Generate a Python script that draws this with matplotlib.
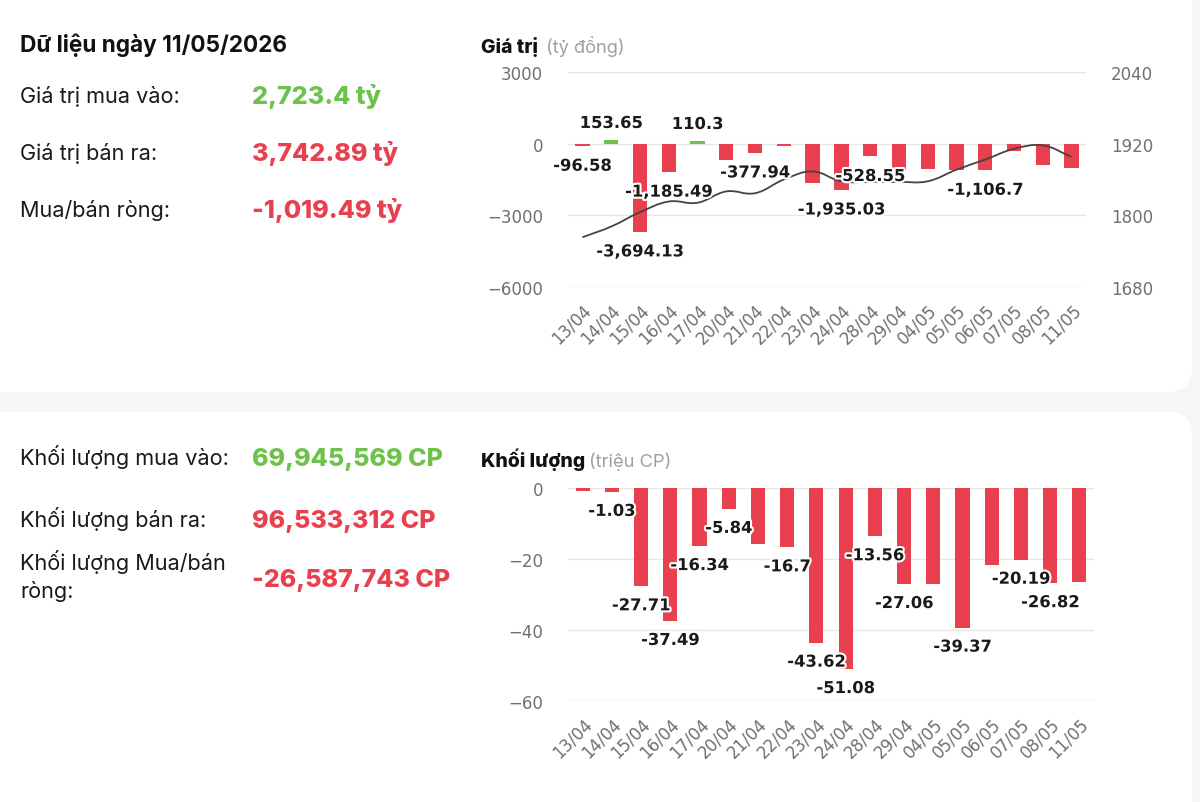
import matplotlib
matplotlib.use("Agg")
import matplotlib.pyplot as plt
import matplotlib.patheffects as pe
from matplotlib.patches import FancyBboxPatch
from matplotlib.path import Path
from matplotlib.patches import PathPatch
import numpy as np

# ---------------- data ----------------
dates = ["13/04", "14/04", "15/04", "16/04", "17/04", "20/04", "21/04", "22/04", "23/04",
         "24/04", "28/04", "29/04", "04/05", "05/05", "06/05", "07/05", "08/05", "11/05"]
net_value = [-96.58, 153.65, -3694.13, -1185.49, 110.3, -663, -377.94, -110, -1650,
             -1935.03, -528.55, -1085, -1040, -1085, -1106.7, -310, -900, -1019.49]
show_value_label = [1, 1, 1, 1, 1, 0, 1, 0, 0, 1, 1, 0, 0, 0, 1, 0, 0, 0]
index_line = [1763, 1781, 1805, 1823, 1821, 1840, 1837, 1860, 1873.5,
              1857, 1856, 1856, 1857, 1876.6, 1893.5, 1911.5, 1917.2, 1898]
net_volume = [-0.75, -1.03, -27.71, -37.49, -16.34, -5.84, -15.8, -16.7, -43.62,
              -51.08, -13.56, -27.06, -26.9, -39.37, -21.6, -20.19, -26.82, -26.59]
show_volume_label = [0, 1, 1, 1, 1, 1, 0, 1, 1, 1, 1, 1, 0, 1, 0, 1, 1, 0]

value_ticks = [-6000, -3000, 0, 3000]
index_ticks = [1680, 1800, 1920, 2040]
volume_ticks = [-60, -40, -20, 0]

summary_date = "Dữ liệu ngày 11/05/2026"
value_rows = [("Giá trị mua vào:", "2,723.4 tỷ", "green"),
              ("Giá trị bán ra:", "3,742.89 tỷ", "red"),
              ("Mua/bán ròng:", "-1,019.49 tỷ", "red")]
volume_rows = [("Khối lượng mua vào:", "69,945,569 CP", "green"),
               ("Khối lượng bán ra:", "96,533,312 CP", "red"),
               ("Khối lượng Mua/bán\nròng:", "-26,587,743 CP", "red")]

# ---------------- style ----------------
W, H = 1200, 803
RED = "#e8404f"
GREEN = "#6cc24a"
GRID = "#e6e6e6"
TICK = "#707070"
BG = "#f6f6f8"
UI_FONT = ["Inter", "DejaVu Sans"]
CH_FONT = ["DejaVu Sans"]

fig = plt.figure(figsize=(W / 100, H / 100), dpi=100, facecolor=BG)


def rect(x0, y0, x1, y1):
    return [x0 / W, 1 - y1 / H, (x1 - x0) / W, (y1 - y0) / H]


def fx(x):
    return x / W


def fy(y):
    return 1 - y / H


# cards
for (cx0, cy0, cx1, cy1) in [(-30, -30, 1192, 393), (-30, 413, 1192, 840)]:
    card = FancyBboxPatch((fx(cx0), fy(cy1)), fx(cx1) - fx(cx0), fy(cy0) - fy(cy1),
                          boxstyle="round,pad=0,rounding_size=0.02",
                          transform=fig.transFigure, facecolor="white", edgecolor="none",
                          zorder=-10, mutation_aspect=W / H)
    fig.patches.append(card)

# ---------------- left summary ----------------
fig.text(fx(20), fy(52), summary_date, fontsize=16.3, fontweight="bold", family=UI_FONT,
         color="#111111", va="baseline")
for (lab, val, col), base in zip(value_rows, [103, 160, 217]):
    fig.text(fx(20), fy(base), lab, fontsize=15.6, family=UI_FONT, color="#1a1a1a", va="baseline")
    fig.text(fx(252), fy(base + 1), val, fontsize=18.1, fontweight=800, family=UI_FONT,
             color=GREEN if col == "green" else RED, va="baseline")
for (lab, val, col), base, vbase in zip(volume_rows, [465, 527, 570], [466, 528, 587]):
    lines = lab.split("\n")
    fig.text(fx(20), fy(base), lines[0], fontsize=15.6, family=UI_FONT, color="#1a1a1a", va="baseline")
    if len(lines) > 1:
        fig.text(fx(20), fy(base + 28), lines[1], fontsize=15.6, family=UI_FONT,
                 color="#1a1a1a", va="baseline")
    fig.text(fx(252), fy(vbase), val, fontsize=18.0, fontweight=800, family=UI_FONT,
             color=GREEN if col == "green" else RED, va="baseline")

# chart titles
fig.text(fx(481), fy(53), "Giá trị", fontsize=14, fontweight=800, family=UI_FONT,
         color="#111111", va="baseline")
fig.text(fx(546), fy(53), "(tỷ đồng)", fontsize=13.2, family=UI_FONT, color="#a0a0a0", va="baseline")
fig.text(fx(481), fy(467), "Khối lượng", fontsize=14, fontweight=800, family=UI_FONT,
         color="#111111", va="baseline")
fig.text(fx(589), fy(467), "(triệu CP)", fontsize=13.2, family=UI_FONT, color="#a0a0a0", va="baseline")

x = np.arange(len(dates))
stroke = [pe.withStroke(linewidth=3, foreground="white")]
LABEL_SIZE = 11.8


def style_axis(ax, ticks, lim):
    ax.set_facecolor("none")
    for s in ax.spines.values():
        s.set_visible(False)
    ax.set_ylim(*lim)
    ax.set_yticks(ticks)
    ax.set_xlim(-0.5, len(dates) - 0.5)
    ax.set_xticks(x)
    ax.set_xticklabels(dates, rotation=45, ha="right", va="top", rotation_mode="anchor",
                       fontsize=12, color=TICK, family=CH_FONT)
    ax.tick_params(axis="both", length=0)
    ax.tick_params(axis="x", pad=10)
    ax.tick_params(axis="y", pad=18, labelsize=12, labelcolor=TICK)


def fmt(v):
    s = f"{v:,}"
    return s


# ---------------- top chart ----------------
ax = fig.add_axes(rect(568, 73.3, 1086, 287.7))
style_axis(ax, value_ticks, (-6000, 3000))
for t in value_ticks:
    ax.axhline(t, color=GRID if t != -6000 else "#dcdcdc", lw=1, zorder=0)
colors = [GREEN if v > 0 else RED for v in net_value]
ax.bar(x, net_value, width=0.5, color=colors, zorder=2)

ax2 = ax.twinx()
ax2.set_facecolor("none")
for s in ax2.spines.values():
    s.set_visible(False)
ax2.set_ylim(1680, 2040)
ax2.set_yticks(index_ticks)
ax2.tick_params(axis="y", length=0, pad=18, labelsize=12, labelcolor=TICK)
ax2.set_xlim(-0.5, len(dates) - 0.5)

# smooth line (Chart.js-style bezier, tension 0.4) in display space
pts = ax2.transData.transform(np.column_stack([x, index_line]))
tension = 0.4
n = len(pts)
cp_prev = np.zeros_like(pts)
cp_next = np.zeros_like(pts)
for i in range(n):
    p0 = pts[max(i - 1, 0)]
    p1 = pts[i]
    p2 = pts[min(i + 1, n - 1)]
    d01 = np.hypot(*(p1 - p0))
    d12 = np.hypot(*(p2 - p1))
    tot = d01 + d12
    s01 = d01 / tot if tot else 0
    s12 = d12 / tot if tot else 0
    cp_prev[i] = p1 - tension * s01 * (p2 - p0)
    cp_next[i] = p1 + tension * s12 * (p2 - p0)
verts = [pts[0]]
codes = [Path.MOVETO]
for i in range(n - 1):
    verts += [cp_next[i], cp_prev[i + 1], pts[i + 1]]
    codes += [Path.CURVE4] * 3
inv = ax2.transData.inverted()
verts_data = inv.transform(np.array(verts))
ax2.add_patch(PathPatch(Path(verts_data, codes), facecolor="none", edgecolor="#444444",
                        lw=1.3, zorder=3))

for i, (v, show) in enumerate(zip(net_value, show_value_label)):
    if not show:
        continue
    off = 12 if v > 0 else -14.5
    ax2.annotate(fmt(v), xy=(i, v), xycoords=ax.transData, xytext=(0, off),
                 textcoords="offset points", ha="center", va="center", fontsize=LABEL_SIZE,
                 fontweight="bold", color="#1a1a1a", family=CH_FONT, path_effects=stroke,
                 zorder=5)

# ---------------- bottom chart ----------------
bx = fig.add_axes(rect(568, 489.3, 1094, 701.7))
style_axis(bx, volume_ticks, (-60, 0))
for t in volume_ticks:
    bx.axhline(t, color=GRID if t != -60 else "#c5cde3", lw=1, zorder=0)
bx.bar(x, net_volume, width=0.48, color=RED, zorder=2)
for i, (v, show) in enumerate(zip(net_volume, show_volume_label)):
    if not show:
        continue
    bx.annotate(fmt(v), xy=(i, v), xytext=(0, -14),
                textcoords="offset points", ha="center", va="center", fontsize=LABEL_SIZE,
                fontweight="bold", color="#1a1a1a", family=CH_FONT, path_effects=stroke,
                zorder=5)

fig.savefig("out.png", dpi=100, facecolor=BG)
